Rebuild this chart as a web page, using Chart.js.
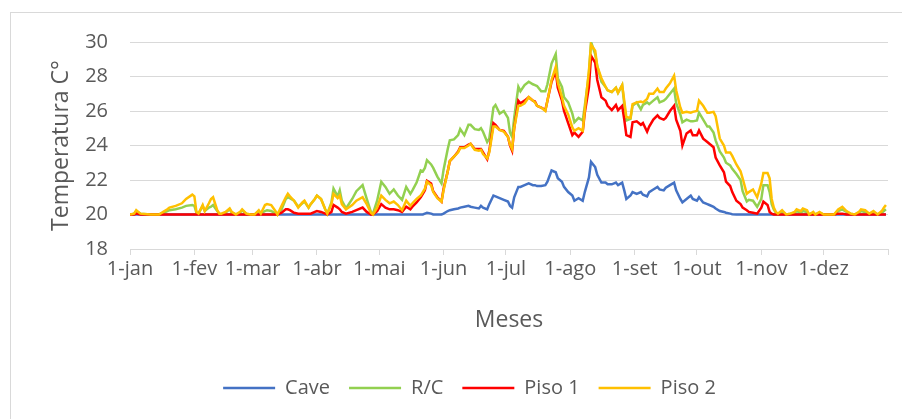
<!DOCTYPE html>
<html>
<head>
<meta charset="utf-8">
<script src="https://cdn.jsdelivr.net/npm/chart.js@4.4.1/dist/chart.umd.min.js"></script>
<style>
  html, body { margin: 0; padding: 0; background: #ffffff; }
  #frame { position: absolute; left: 10px; top: 12px; width: 900px; height: 420px;
           border: 1px solid #d9d9d9; box-sizing: border-box; }
  #wrap { position: absolute; left: 0; top: 0; width: 902px; height: 419px; }
</style>
</head>
<body>
<div id="frame"></div>
<div id="wrap"><canvas id="chart" width="902" height="419"></canvas></div>
<script>
// Day of year (0 = 1 January) of each reading
const days = [
  0, 2, 3, 5, 10, 14, 16, 18, 19, 22, 25, 27, 30, 31, 32, 33, 35, 36, 38, 39,
  40, 42, 43, 44, 46, 48, 49, 51, 53, 54, 56, 58, 60, 62, 63, 65, 66, 68, 70, 71,
  73, 75, 76, 77, 79, 81, 83, 84, 86, 87, 89, 90, 92, 94, 95, 97, 98, 100, 101, 102,
  104, 107, 109, 112, 114, 116, 117, 119, 121, 123, 125, 127, 129, 131, 133, 135, 136, 138, 140, 141,
  142, 143, 145, 146, 148, 150, 151, 153, 154, 156, 158, 159, 161, 163, 164, 166, 168, 169, 170, 172,
  173, 175, 176, 178, 180, 182, 183, 184, 185, 187, 188, 190, 192, 194, 195, 196, 198, 200, 201, 203,
  205, 206, 208, 209, 211, 213, 214, 216, 218, 219, 221, 222, 224, 225, 227, 229, 230, 232, 234, 235,
  237, 238, 239, 241, 242, 244, 246, 247, 249, 250, 252, 254, 255, 257, 258, 260, 262, 263, 265, 266,
  268, 270, 271, 273, 274, 276, 278, 279, 281, 282, 284, 286, 287, 289, 290, 292, 294, 295, 297, 298,
  300, 302, 304, 305, 307, 308, 309, 310, 311, 312, 314, 316, 318, 320, 321, 323, 324, 326, 327, 329,
  330, 332, 334, 339, 341, 343, 345, 347, 349, 351, 352, 354, 356, 358, 360, 362, 363, 364
];

// Temperatures (°C) per space
const cave = [
  20, 20, 20, 20, 20, 20, 20, 20, 20, 20, 20, 20, 20, 20, 20, 20, 20, 20, 20, 20,
  20, 20, 20, 20, 20, 20, 20, 20, 20, 20, 20, 20, 20, 20, 20, 20, 20, 20, 20, 20,
  20, 20, 20, 20, 20, 20, 20, 20, 20, 20, 20, 20, 20, 20, 20, 20, 20, 20, 20, 20,
  20, 20, 20, 20, 20, 20, 20, 20, 20, 20, 20, 20, 20, 20, 20, 20, 20, 20, 20, 20,
  20.05, 20.1, 20.05, 20, 20, 20, 20.05, 20.2, 20.25, 20.3, 20.35, 20.4, 20.45, 20.5, 20.45, 20.4, 20.35, 20.5, 20.4, 20.3,
  20.6, 21.1, 21.05, 20.95, 20.85, 20.75, 20.5, 20.4, 21.0, 21.6, 21.6, 21.7, 21.8, 21.7, 21.7, 21.65, 21.65, 21.7, 21.9, 22.55,
  22.45, 22.1, 21.9, 21.6, 21.3, 21.1, 20.8, 20.95, 20.8, 21.3, 22.15, 23.05, 22.75, 22.3, 21.85, 21.85, 21.75, 21.75, 21.85, 21.7,
  21.85, 21.4, 20.9, 21.1, 21.3, 21.2, 21.3, 21.15, 21.05, 21.3, 21.45, 21.6, 21.45, 21.4, 21.55, 21.7, 21.85, 21.4, 20.9, 20.7,
  20.9, 21.1, 20.9, 20.8, 21.0, 20.7, 20.6, 20.55, 20.45, 20.35, 20.2, 20.15, 20.1, 20.05, 20.02, 20, 20, 20, 20, 20,
  20, 20, 20, 20, 20, 20, 20, 20, 20, 20, 20, 20, 20, 20, 20, 20, 20, 20, 20, 20,
  20, 20, 20, 20, 20, 20, 20, 20, 20, 20, 20, 20, 20, 20, 20, 20, 20, 20
];

const rc = [
  20, 20.05, 20.2, 20.05, 20, 20, 20.1, 20.2, 20.25, 20.3, 20.4, 20.5, 20.55, 20.5, 20.1, 20.05, 20.5, 20.2, 20.4, 20.45,
  20.55, 20.2, 20.05, 20, 20.1, 20.3, 20.1, 20, 20.1, 20.25, 20.05, 20, 20, 20.2, 20.05, 20.2, 20.25, 20.2, 20.05, 20,
  20.3, 20.9, 21.0, 20.95, 20.8, 20.45, 20.65, 20.75, 20.4, 20.6, 20.9, 21.1, 20.9, 20.3, 20.05, 20.7, 21.5, 21.05, 21.4, 20.8,
  20.35, 20.9, 21.35, 21.7, 20.9, 20.15, 20.05, 20.8, 21.9, 21.6, 21.2, 21.45, 21.1, 20.85, 21.6, 21.2, 21.4, 21.85, 22.55, 22.5,
  22.7, 23.15, 22.9, 22.7, 22.2, 21.8, 22.6, 23.8, 24.3, 24.35, 24.6, 24.95, 24.6, 25.2, 25.2, 24.95, 24.9, 25.0, 24.8, 24.2,
  24.4, 26.2, 26.35, 25.85, 26.0, 25.6, 24.75, 24.5, 25.6, 27.4, 27.15, 27.5, 27.7, 27.55, 27.5, 27.45, 27.15, 27.15, 27.55, 28.75,
  29.3, 27.9, 27.4, 26.8, 26.5, 25.85, 25.35, 25.6, 25.45, 26.3, 28.2, 30.0, 29.3, 28.6, 27.7, 27.4, 27.2, 27.1, 27.35, 27.05,
  27.5, 26.4, 25.45, 25.55, 26.3, 26.5, 26.1, 26.35, 26.5, 26.4, 26.6, 26.8, 26.5, 26.6, 26.7, 27.0, 27.3, 26.45, 25.8, 25.35,
  25.5, 25.4, 25.4, 25.45, 25.9, 25.5, 25.1, 25.1, 24.75, 24.3, 23.65, 23.3, 23.0, 22.85, 22.65, 22.35, 22.0, 21.35, 20.75, 20.85,
  20.8, 20.45, 20.9, 21.7, 21.7, 21.3, 20.6, 20.3, 20.1, 20, 20.15, 20, 20.05, 20.1, 20.2, 20.1, 20.2, 20.15, 20, 20.1,
  20, 20.1, 20, 20, 20.2, 20.3, 20.15, 20.05, 20, 20.1, 20.2, 20.15, 20.05, 20.1, 20, 20.1, 20.2, 20.3
];

const piso1 = [
  20, 20, 20.05, 20, 20, 20, 20, 20, 20, 20, 20, 20, 20, 20, 20, 20, 20, 20, 20, 20,
  20, 20, 20, 20, 20, 20, 20, 20, 20, 20, 20, 20, 20, 20, 20, 20, 20, 20, 20, 20,
  20.1, 20.3, 20.3, 20.25, 20.1, 20.05, 20.05, 20.05, 20.05, 20.05, 20.15, 20.2, 20.15, 20.05, 20, 20.15, 20.55, 20.4, 20.3, 20.15,
  20.05, 20.15, 20.25, 20.4, 20.15, 20, 20, 20.2, 20.6, 20.4, 20.3, 20.3, 20.25, 20.15, 20.45, 20.3, 20.45, 20.7, 21.0, 21.2,
  21.4, 21.95, 21.8, 21.35, 21.0, 20.75, 21.5, 22.5, 23.1, 23.35, 23.65, 23.9, 23.9, 24.05, 24.1, 23.8, 23.8, 23.8, 23.6, 23.2,
  23.7, 25.3, 25.2, 24.9, 24.85, 24.5, 24.0, 23.7, 25.0, 26.6, 26.45, 26.6, 26.8, 26.6, 26.55, 26.3, 26.2, 26.05, 26.6, 27.7,
  28.3, 27.35, 26.6, 26.0, 25.3, 24.6, 24.75, 24.5, 24.8, 25.9, 27.4, 29.2, 28.8, 27.8, 26.8, 26.6, 26.3, 26.05, 26.35, 26.05,
  26.3, 25.5, 24.6, 24.5, 25.35, 25.4, 25.2, 25.3, 24.8, 25.1, 25.5, 25.75, 25.6, 25.5, 25.6, 26.0, 26.3, 25.5, 24.85, 24.0,
  24.7, 24.87, 24.6, 24.6, 24.87, 24.4, 24.2, 24.1, 23.9, 23.3, 22.85, 22.45, 21.9, 21.65, 21.3, 20.8, 20.6, 20.4, 20.25, 20.15,
  20.1, 20.05, 20.4, 20.75, 20.55, 20.15, 20.05, 20, 20, 20, 20, 20, 20, 20, 20, 20, 20, 20, 20, 20,
  20, 20, 20, 20, 20.05, 20.05, 20, 20, 20, 20, 20, 20, 20, 20, 20, 20, 20, 20
];

const piso2 = [
  20, 20.05, 20.25, 20.05, 20, 20, 20.15, 20.3, 20.4, 20.5, 20.65, 20.9, 21.15, 21.05, 20.15, 20.05, 20.55, 20.2, 20.65, 20.9,
  21.0, 20.25, 20.05, 20.05, 20.15, 20.35, 20.15, 20, 20.15, 20.3, 20.05, 20, 20, 20.25, 20.05, 20.55, 20.6, 20.55, 20.2, 20,
  20.5, 21.0, 21.2, 21.05, 20.8, 20.4, 20.7, 20.8, 20.4, 20.6, 20.9, 21.1, 20.9, 20.3, 20.05, 20.6, 21.2, 20.95, 21.1, 20.6,
  20.3, 20.55, 20.8, 21.0, 20.6, 20.1, 20, 20.4, 21.1, 20.85, 20.65, 20.75, 20.55, 20.25, 20.8, 20.5, 20.65, 20.9, 21.1, 21.3,
  21.5, 21.9, 21.7, 21.3, 20.95, 20.75, 21.4, 22.5, 23.1, 23.35, 23.6, 23.85, 23.85, 24.0, 24.1, 23.75, 23.7, 23.75, 23.5, 23.25,
  23.6, 25.1, 25.1, 24.9, 24.8, 24.5, 24.05, 23.8, 25.0, 26.3, 26.3, 26.45, 26.8, 26.6, 26.5, 26.3, 26.2, 26.0, 26.6, 27.8,
  28.55, 27.65, 26.8, 26.3, 25.8, 25.05, 24.85, 25.0, 24.85, 26.05, 28.35, 29.85, 29.5, 28.6, 27.9, 27.4, 27.2, 27.1, 27.35, 27.05,
  27.5, 26.6, 25.65, 25.6, 26.4, 26.5, 26.55, 26.5, 26.7, 27.0, 27.0, 27.3, 27.1, 27.1, 27.3, 27.6, 28.05, 27.2, 26.2, 25.9,
  25.95, 25.9, 25.95, 26.0, 26.6, 26.3, 25.9, 25.9, 25.95, 25.7, 24.4, 24.0, 23.6, 23.6, 23.4, 22.9, 22.5, 22.1, 21.2, 21.3,
  21.45, 21.0, 21.8, 22.4, 22.4, 22.1, 20.9, 20.4, 20.15, 20.05, 20.25, 20, 20.05, 20.15, 20.3, 20.2, 20.35, 20.25, 20, 20.15,
  20, 20.15, 20, 20, 20.3, 20.45, 20.2, 20.05, 20, 20.15, 20.3, 20.25, 20.05, 20.2, 20, 20.2, 20.4, 20.55
];

// Month starts on the time axis and their labels
const monthStarts = [0, 31, 59, 90, 120, 151, 181, 212, 243, 273, 304, 334, 365];
const monthLabels = ['1-jan', '1-fev', '1-mar', '1-abr', '1-mai', '1-jun', '1-jul',
                     '1-ago', '1-set', '1-out', '1-nov', '1-dez', ''];

const textColor = '#595959';
const gridColor = '#d9d9d9';
const family = '"Open Sans", "Liberation Sans", sans-serif';

function series(label, values, color, order) {
  return {
    label,
    data: days.map((d, i) => ({ x: d, y: values[i] })),
    borderColor: color,
    backgroundColor: color,
    borderWidth: 2.5,
    pointRadius: 0,
    tension: 0,
    fill: false,
    order
  };
}

function draw() {
  new Chart(document.getElementById('chart'), {
    type: 'line',
    data: {
      datasets: [
        series('Cave', cave, '#4472C4', 3),
        series('R/C', rc, '#92D050', 2),
        series('Piso 1', piso1, '#FF0000', 1),
        series('Piso 2', piso2, '#FFC000', 0)
      ]
    },
    options: {
      responsive: false,
      animation: false,
      events: [],
      layout: { padding: { left: 51, right: 14, top: 42, bottom: 11 } },
      scales: {
        x: {
          type: 'linear',
          min: 0,
          max: 365,
          afterBuildTicks: (s) => { s.ticks = monthStarts.map(v => ({ value: v })); },
          afterFit: (s) => { s.height = 110; },
          ticks: {
            autoSkip: false,
            maxRotation: 0,
            padding: 2,
            color: textColor,
            font: { family, size: 20 },
            callback: (v, i) => monthLabels[i]
          },
          grid: { drawOnChartArea: false, drawTicks: true, tickLength: 6, color: gridColor, lineWidth: 1 },
          border: { display: true, color: gridColor, width: 1 },
          title: {
            display: true,
            text: 'Meses',
            color: textColor,
            font: { family, size: 23 },
            padding: { top: 0, bottom: 25 }
          }
        },
        y: {
          min: 18,
          max: 30,
          afterFit: (s) => { s.width = 79; },
          ticks: { stepSize: 2, padding: 22, color: textColor, font: { family, size: 20 } },
          grid: { color: gridColor, lineWidth: 1, drawTicks: false },
          border: { display: false },
          title: {
            display: true,
            text: 'Temperatura C°',
            color: textColor,
            font: { family, size: 23 },
            padding: { top: -3, bottom: 0 }
          }
        }
      },
      plugins: {
        legend: {
          position: 'bottom',
          labels: {
            usePointStyle: true,
            pointStyle: 'line',
            pointStyleWidth: 52,
            padding: 19,
            color: textColor,
            font: { family, size: 20 },
            sort: (a, b) => a.datasetIndex - b.datasetIndex
          }
        },
        tooltip: { enabled: false }
      }
    }
  });
}

if (document.fonts && document.fonts.load) {
  Promise.all([
    document.fonts.load('20px "Open Sans"'),
    document.fonts.load('23px "Open Sans"')
  ]).then(draw, draw);
} else {
  draw();
}
</script>
</body>
</html>
